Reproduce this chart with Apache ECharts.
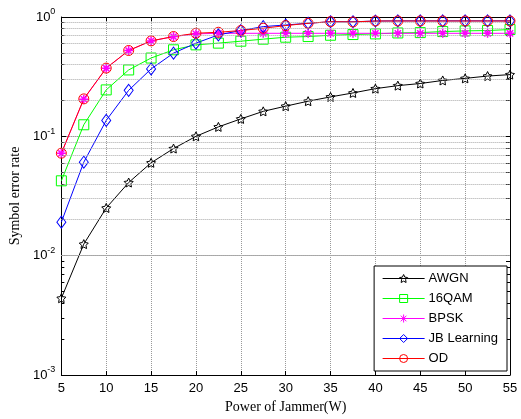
<!DOCTYPE html>
<html><head><meta charset="utf-8">
<script src="https://cdn.jsdelivr.net/npm/echarts@6/dist/echarts.min.js"></script>
<style>html,body{margin:0;padding:0;background:#fff}#c{width:521px;height:419px}</style>
</head><body><div id="c"></div>
<script>
var xValues = [5,7.5,10,12.5,15,17.5,20,22.5,25,27.5,30,32.5,35,37.5,40,42.5,45,47.5,50,52.5,55];
var awgn = [0.0044,0.0125,0.0251,0.041,0.060,0.079,0.100,0.120,0.140,0.162,0.179,0.197,0.214,0.231,0.251,0.266,0.277,0.294,0.306,0.320,0.329];
var qam16 = [0.0424,0.125,0.245,0.36,0.453,0.531,0.584,0.604,0.627,0.652,0.677,0.686,0.703,0.713,0.722,0.735,0.74,0.755,0.765,0.77,0.785];
var bpsk = [0.072,0.205,0.372,0.523,0.630,0.685,0.722,0.73,0.73,0.73,0.73,0.73,0.73,0.73,0.73,0.73,0.73,0.73,0.73,0.73,0.73];
var jb = [0.0191,0.0607,0.136,0.243,0.367,0.498,0.604,0.708,0.77,0.831,0.857,0.886,0.912,0.912,0.925,0.928,0.928,0.928,0.928,0.928,0.928];
var od = [0.0722,0.206,0.373,0.524,0.631,0.686,0.731,0.745,0.77,0.805,0.847,0.886,0.914,0.909,0.926,0.926,0.926,0.926,0.926,0.926,0.926];
var seriesNames = ['AWGN','16QAM','BPSK','JB Learning','OD'];
var xTicks = [5,10,15,20,25,30,35,40,45,50,55];
var yMajor = [0.001,0.01,0.1,1];
var yMinor = [0.002,0.003,0.004,0.005,0.006,0.007,0.008,0.009,0.02,0.03,0.04,0.05,0.06,0.07,0.08,0.09,0.2,0.3,0.4,0.5,0.6,0.7,0.8,0.9];

function pairs(ys){ return ys.map(function(y,i){ return [xValues[i], y]; }); }

var starPath = 'path://M0,-10 L2.94,-4.05 9.51,-3.09 4.76,1.55 5.88,8.09 0,5 -5.88,8.09 -4.76,1.55 -9.51,-3.09 -2.94,-4.05 Z';
var asteriskPath = 'path://M0,-10 L0,10 M-10,0 L10,0 M-7,-7 L7,7 M-7,7 L7,-7';

function mk(name, data, color, symbol, size, bw){
  return {
    name: name, type: 'line', data: pairs(data), xAxisIndex: 0, yAxisIndex: 0,
    symbol: symbol, symbolSize: size, showAllSymbol: true,
    lineStyle: {color: color, width: 1},
    itemStyle: {color: 'rgba(0,0,0,0)', borderColor: color, borderWidth: bw || 1},
    emphasis: {disabled: true}, animation: false
  };
}

var chart = echarts.init(document.getElementById('c'), null, {renderer: 'canvas'});
var axisFont = 'Liberation Sans, Arial, sans-serif';
var base = {type: 'log', min: 0.001, max: 1, logBase: 10};
var series = [
  mk('AWGN', awgn, '#000000', starPath, 9, 1),
  mk('16QAM', qam16, '#00ff00', 'rect', 10, 1),
  mk('BPSK', bpsk, '#ff00ff', asteriskPath, 9, 1.5),
  mk('JB Learning', jb, '#0000ff', 'diamond', [9, 12], 1),
  mk('OD', od, '#ff0000', 'circle', 10, 1)
];
series[0].markLine = {
  silent: true, symbol: ['none','none'], label: {show: false}, animation: false,
  lineStyle: {color: '#a8a8a8', width: 1, type: [1, 1]},
  data: yMinor.map(function(v){ return {yAxis: v}; })
};
series[0].z = 3;

chart.setOption({
  animation: false,
  grid: {left: 55, right: 11, top: 17, bottom: 42, containLabel: false},
  legend: {
    data: seriesNames, orient: 'vertical', right: 14, bottom: 48,
    backgroundColor: '#fff', borderColor: '#000', borderWidth: 1,
    padding: [6, 9, 6, 8], itemGap: 7, itemWidth: 42, itemHeight: 10,
    itemStyle: {color: 'rgba(0,0,0,0)', borderWidth: 1},
    lineStyle: {width: 1},
    textStyle: {fontFamily: axisFont, fontSize: 13, color: '#000', padding: [0, 0, 0, -1]},
    selectedMode: false
  },
  xAxis: [{
    type: 'value', min: 5, max: 55, interval: 5, position: 'bottom',
    name: 'Power of Jammer(W)', nameLocation: 'middle', nameGap: 25,
    nameTextStyle: {fontFamily: 'Liberation Serif, Times New Roman, serif', fontSize: 14, color: '#000'},
    axisLine: {show: true, lineStyle: {color: '#000', width: 1}},
    axisTick: {show: true, inside: true, length: 4, lineStyle: {color: '#000'}},
    axisLabel: {fontFamily: axisFont, fontSize: 13, color: '#000', margin: 7},
    splitLine: {show: true, lineStyle: {color: '#999', width: 1, type: [1, 1]}}
  },{
    type: 'value', min: 5, max: 55, interval: 5, position: 'top',
    axisLine: {show: true, lineStyle: {color: '#000', width: 1}},
    axisTick: {show: true, inside: true, length: 4, lineStyle: {color: '#000'}},
    axisLabel: {show: false}, splitLine: {show: false}
  }],
  yAxis: [Object.assign({}, base, {
    position: 'left',
    name: 'Symbol error rate', nameLocation: 'middle', nameGap: 37, nameRotate: 90,
    nameTextStyle: {fontFamily: 'Liberation Serif, Times New Roman, serif', fontSize: 14, color: '#000'},
    axisLine: {show: true, lineStyle: {color: '#000', width: 1}},
    axisTick: {show: true, inside: true, length: 5, lineStyle: {color: '#000'}},
    axisLabel: {
      margin: 6, color: '#000',
      formatter: function(v){ var e = Math.round(Math.log10(v)); return '{b|10}{s|' + e + '}'; },
      rich: {
        b: {fontFamily: axisFont, fontSize: 13, color: '#000'},
        s: {fontFamily: axisFont, fontSize: 9, color: '#000', verticalAlign: 'top', padding: [0, 0, 10, 0]}
      }
    },
    splitLine: {show: true, lineStyle: {color: '#666', width: 1, type: [1, 1]}}
  }), Object.assign({}, base, {
    position: 'right',
    axisLine: {show: true, lineStyle: {color: '#000', width: 1}},
    axisTick: {show: true, inside: true, length: 4, lineStyle: {color: '#000'}, customValues: yMajor.concat(yMinor)},
    axisLabel: {show: false}, splitLine: {show: false}
  }), Object.assign({}, base, {
    position: 'left',
    axisLine: {show: false},
    axisTick: {show: true, inside: true, length: 3, lineStyle: {color: '#000'}, customValues: yMinor},
    axisLabel: {show: false}, splitLine: {show: false}
  })],
  series: series
});
</script>
</body></html>
